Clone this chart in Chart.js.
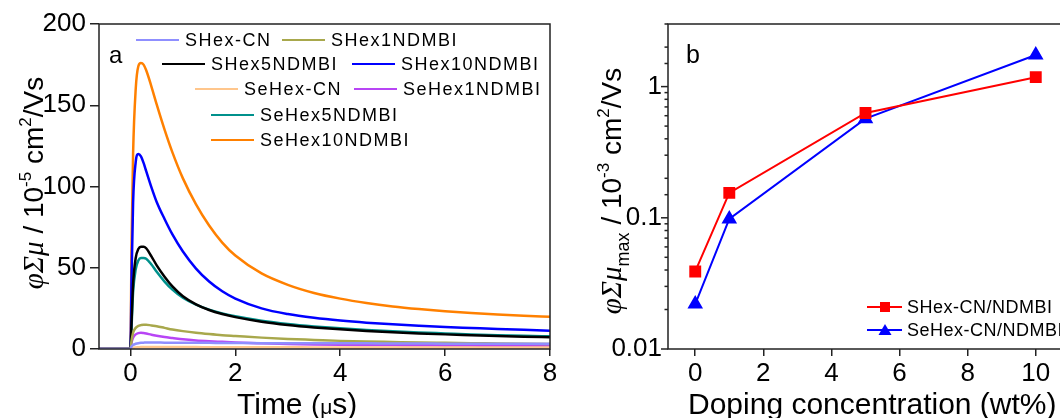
<!DOCTYPE html>
<html>
<head>
<meta charset="utf-8">
<script src="https://cdn.jsdelivr.net/npm/chart.js@4/dist/chart.umd.min.js"></script>
<style>
  html, body { margin: 0; padding: 0; background: #fff; overflow: hidden; width: 1060px; height: 418px; }
  .panel { position: absolute; top: 0; height: 418px; }
  #panelA { left: 0; width: 560px; }
  #panelB { left: 560px; width: 520px; }
</style>
</head>
<body>
<div class="panel" id="panelA"><canvas id="decayChart" width="560" height="418"></canvas></div>
<div class="panel" id="panelB"><canvas id="peakChart" width="520" height="418"></canvas></div>
<script>
// panel a: photoconductivity transients, time in microseconds
const timeUs = [-0.6, -0.02, 0, 0.02, 0.05, 0.1, 0.15, 0.2, 0.25, 0.3, 0.4, 0.5, 0.65, 0.8, 1.0,
  1.25, 1.5, 1.75, 2.0, 2.5, 3.0, 3.5, 4.0, 4.5, 5.0, 5.5, 6.0, 6.5, 7.0, 7.5, 8.0];

const sHexCN = [0, 0, 0, 1.5, 2.5, 3.2, 3.6, 3.8, 3.9, 4.0, 4.0, 4.0, 3.9, 3.9, 3.9,
  3.8, 3.8, 3.7, 3.7, 3.6, 3.6, 3.5, 3.5, 3.5, 3.4, 3.4, 3.3, 3.3, 3.3, 3.2, 3.2];
const sHex1 = [0, 0, 0, 5, 10, 13, 14.2, 14.7, 15, 15, 14.5, 14, 13, 12, 11,
  10, 9.2, 8.5, 8, 7, 6.2, 5.6, 5, 4.6, 4.3, 4, 3.8, 3.6, 3.4, 3.2, 3.0];
const sHex5 = [0, 0, 0, 16, 40, 56, 61.5, 63, 63, 62, 57, 51.5, 44.5, 38.5, 32.5,
  27.5, 24, 21.5, 19.6, 16.8, 14.8, 13.3, 12.1, 11.1, 10.3, 9.6, 9.0, 8.5, 8.0, 7.6, 7.3];
const sHex10 = [0, 0, 0, 42, 90, 115, 120, 118.5, 114.5, 109.5, 99.5, 90.5, 80, 70.5, 60,
  49.5, 41.5, 35.5, 31, 25, 21.5, 19.2, 17.5, 16.2, 15.2, 14.3, 13.5, 12.9, 12.3, 11.8, 11.3];
const seHexCN = [0, 0, 0, 0.5, 0.8, 1.0, 1.1, 1.2, 1.2, 1.2, 1.2, 1.2, 1.2, 1.2, 1.2,
  1.2, 1.1, 1.1, 1.1, 1.1, 1.1, 1.0, 1.0, 1.0, 1.0, 1.0, 1.0, 1.0, 1.0, 1.0, 1.0];
const seHex1 = [0, 0, 0, 4, 7, 9, 9.8, 10, 9.8, 9.5, 8.8, 8.2, 7.4, 6.8, 6,
  5.3, 4.8, 4.4, 4, 3.5, 3.1, 2.8, 2.6, 2.5, 2.4, 2.3, 2.2, 2.1, 2.0, 2.0, 1.9];
const seHex5 = [0, 0, 0, 13, 35, 49, 54.5, 56, 56, 55.5, 52, 47.5, 41.5, 36.5, 31.5,
  27.3, 24.2, 21.9, 20.1, 17.4, 15.4, 13.9, 12.7, 11.7, 10.9, 10.2, 9.6, 9.0, 8.5, 8.1, 7.8];
const seHex10 = [0, 0, 0, 62, 120, 160, 174, 176, 175, 171.5, 161.5, 150.5, 135, 121, 105,
  89, 76, 65.5, 57.5, 46.5, 39.5, 34.5, 31, 28.3, 26.2, 24.6, 23.3, 22.2, 21.3, 20.5, 19.8];

const seriesNames = ['SHex-CN', 'SHex1NDMBI', 'SHex5NDMBI', 'SHex10NDMBI',
  'SeHex-CN', 'SeHex1NDMBI', 'SeHex5NDMBI', 'SeHex10NDMBI'];
const seriesValues = [sHexCN, sHex1, sHex5, sHex10, seHexCN, seHex1, seHex5, seHex10];
const seriesColors = ['#8f8fff', '#a8a84c', '#000000', '#0000ff',
  '#ffc68c', '#b845f5', '#00918c', '#ff8000'];

// panel b: peak values vs doping
const dopingWt = [0, 1, 5, 10];
const sHexPeak = [0.039, 0.155, 0.63, 1.18];
const seHexPeak = [0.022, 0.098, 0.57, 1.74];

const SANS = '"Liberation Sans", Arial, sans-serif';
const SERIF = '"Liberation Serif", "DejaVu Serif", serif';

// draw a row of text pieces with different fonts; rotated=true reads bottom-to-top
function drawRuns(ctx, runs, x, y, rotated, centered) {
  ctx.save();
  ctx.fillStyle = '#000';
  ctx.textBaseline = 'alphabetic';
  ctx.textAlign = 'left';
  let total = 0;
  runs.forEach(r => { ctx.font = r.font; total += ctx.measureText(r.text).width; });
  ctx.translate(x, y);
  if (rotated) ctx.rotate(-Math.PI / 2);
  let cx = centered ? -total / 2 : 0;
  runs.forEach(r => {
    ctx.font = r.font;
    ctx.fillText(r.text, cx, r.dy || 0);
    cx += ctx.measureText(r.text).width;
  });
  ctx.restore();
}

function drawFrame(chart) {
  const a = chart.chartArea;
  const ctx = chart.ctx;
  ctx.save();
  ctx.strokeStyle = '#222';
  ctx.lineWidth = 1.5;
  ctx.strokeRect(a.left, a.top, a.right - a.left, a.bottom - a.top);
  ctx.restore();
}

const decayDecor = {
  id: 'decayDecor',
  afterDraw(chart) {
    const ctx = chart.ctx;
    drawFrame(chart);

    // legend laid out like the original, rows of one or two entries
    const legendRows = [
      { y: 40, items: [[0, 136], [1, 282]] },
      { y: 64, items: [[2, 162], [3, 352]] },
      { y: 89, items: [[4, 195], [5, 354]] },
      { y: 115, items: [[6, 211]] },
      { y: 140, items: [[7, 211]] }
    ];
    ctx.save();
    ctx.font = '18px ' + SANS;
    ctx.letterSpacing = '1.5px';
    ctx.textBaseline = 'middle';
    legendRows.forEach(row => {
      row.items.forEach(([i, x0]) => {
        const ds = chart.data.datasets[i];
        ctx.strokeStyle = ds.borderColor;
        ctx.lineWidth = 2;
        ctx.beginPath();
        ctx.moveTo(x0, row.y);
        ctx.lineTo(x0 + 43, row.y);
        ctx.stroke();
        ctx.fillStyle = '#000';
        ctx.fillText(ds.label, x0 + 49, row.y + 1);
      });
    });
    ctx.restore();

    ctx.save();
    ctx.fillStyle = '#000';
    ctx.font = '24px ' + SANS;
    ctx.fillText('a', 109, 63);
    ctx.restore();

    drawRuns(ctx, [
      { text: 'Time ', font: '30px ' + SANS },
      { text: '(', font: '28px ' + SANS },
      { text: 'μ', font: '21px ' + SANS },
      { text: 's)', font: '30px ' + SANS }
    ], 237, 414, false, false);

    drawRuns(ctx, [
      { text: 'φΣμ', font: 'italic 29px ' + SERIF },
      { text: ' / 10', font: '28px ' + SANS },
      { text: '-5', font: '17px ' + SANS, dy: -12 },
      { text: ' cm', font: '28px ' + SANS },
      { text: '2', font: '17px ' + SANS, dy: -12 },
      { text: '/Vs', font: '28px ' + SANS }
    ], 43, 183, true, true);
  }
};

const peakDecor = {
  id: 'peakDecor',
  afterDraw(chart) {
    const ctx = chart.ctx;
    const a = chart.chartArea;
    drawFrame(chart);

    // log axis tick marks, longer at the decades
    const ys = chart.scales.y;
    ctx.save();
    ctx.strokeStyle = '#222';
    ctx.lineWidth = 1.5;
    ys.ticks.forEach(t => {
      const lg = Math.log10(t.value);
      const major = Math.abs(lg - Math.round(lg)) < 1e-6;
      const py = ys.getPixelForValue(t.value);
      ctx.beginPath();
      ctx.moveTo(a.left, py);
      ctx.lineTo(a.left - (major ? 7 : 3.5), py);
      ctx.stroke();
    });
    ctx.restore();

    // legend, bottom right
    const entries = [
      { i: 0, y: 307 },
      { i: 1, y: 330 }
    ];
    const ox = -560;
    ctx.save();
    ctx.font = '18px ' + SANS;
    ctx.letterSpacing = '0.5px';
    ctx.textBaseline = 'middle';
    entries.forEach(e => {
      const ds = chart.data.datasets[e.i];
      ctx.strokeStyle = ds.borderColor;
      ctx.fillStyle = ds.borderColor;
      ctx.lineWidth = 2;
      ctx.beginPath();
      ctx.moveTo(867 + ox, e.y);
      ctx.lineTo(902 + ox, e.y);
      ctx.stroke();
      const mx = 885 + ox;
      if (ds.pointStyle === 'rect') {
        ctx.fillRect(mx - 5, e.y - 5, 10, 10);
      } else {
        ctx.beginPath();
        ctx.moveTo(mx, e.y - 6);
        ctx.lineTo(mx + 6.5, e.y + 5);
        ctx.lineTo(mx - 6.5, e.y + 5);
        ctx.closePath();
        ctx.fill();
      }
      ctx.fillStyle = '#000';
      ctx.fillText(ds.label, 907 + ox, e.y + 1);
    });
    ctx.restore();

    ctx.save();
    ctx.fillStyle = '#000';
    ctx.font = '25px ' + SANS;
    ctx.fillText('b', 686 + ox, 63);
    ctx.restore();

    drawRuns(ctx, [
      { text: 'Doping concentration (wt%)', font: '30px ' + SANS }
    ], 688 + ox, 414, false, false);

    drawRuns(ctx, [
      { text: 'φΣμ', font: 'italic 29px ' + SERIF },
      { text: 'max', font: '18px ' + SANS, dy: 8 },
      { text: ' / 10', font: '28px ' + SANS },
      { text: '-3', font: '17px ' + SANS, dy: -12 },
      { text: ' cm', font: '28px ' + SANS },
      { text: '2', font: '17px ' + SANS, dy: -12 },
      { text: '/Vs', font: '28px ' + SANS }
    ], 621 + ox, 191, true, true);
  }
};

const tickFont = { family: SANS, size: 26 };

new Chart(document.getElementById('decayChart'), {
  type: 'line',
  data: {
    datasets: seriesNames.map((name, i) => ({
      label: name,
      data: timeUs.map((t, k) => ({ x: t, y: seriesValues[i][k] })),
      borderColor: seriesColors[i],
      backgroundColor: seriesColors[i],
      borderWidth: 2.5,
      pointRadius: 0,
      cubicInterpolationMode: 'monotone',
      fill: false
    }))
  },
  options: {
    responsive: false,
    animation: false,
    layout: { autoPadding: false, padding: { left: 0, right: 10, top: 24, bottom: 0 } },
    plugins: { legend: { display: false }, tooltip: { enabled: false } },
    scales: {
      x: {
        type: 'linear', min: -0.6, max: 8,
        afterFit(s) { s.height = 69; },
        ticks: { stepSize: 2, includeBounds: false, font: tickFont, color: '#000', padding: 2, maxRotation: 0 },
        grid: { drawOnChartArea: false, tickLength: 7, color: '#222', lineWidth: 1.5 },
        border: { display: false }
      },
      y: {
        min: 0, max: 200,
        afterFit(s) { s.width = 99; },
        ticks: { stepSize: 50, font: tickFont, color: '#000', padding: 4 },
        grid: { drawOnChartArea: false, tickLength: 9, color: '#222', lineWidth: 1.5 },
        border: { display: false }
      }
    }
  },
  plugins: [decayDecor]
});

new Chart(document.getElementById('peakChart'), {
  type: 'scatter',
  data: {
    datasets: [
      {
        label: 'SHex-CN/NDMBI',
        data: dopingWt.map((x, k) => ({ x, y: sHexPeak[k] })),
        borderColor: '#ff0000', backgroundColor: '#ff0000',
        showLine: true, borderWidth: 2, pointStyle: 'rect', pointRadius: 7
      },
      {
        label: 'SeHex-CN/NDMBI',
        data: dopingWt.map((x, k) => ({ x, y: seHexPeak[k] })),
        borderColor: '#0000ff', backgroundColor: '#0000ff',
        showLine: true, borderWidth: 2, pointStyle: 'triangle', pointRadius: 7
      }
    ]
  },
  options: {
    responsive: false,
    animation: false,
    layout: { autoPadding: false, padding: { left: 0, right: 17, top: 24, bottom: 0 } },
    plugins: { legend: { display: false }, tooltip: { enabled: false } },
    scales: {
      x: {
        type: 'linear', min: -0.8, max: 10.8,
        afterFit(s) { s.height = 69; },
        ticks: { stepSize: 2, includeBounds: false, font: tickFont, color: '#000', padding: 2, maxRotation: 0 },
        grid: { drawOnChartArea: false, tickLength: 7, color: '#222', lineWidth: 1.5 },
        border: { display: false }
      },
      y: {
        type: 'logarithmic', min: 0.01, max: 3,
        afterFit(s) { s.width = 108; },
        ticks: {
          font: tickFont, color: '#000', padding: 6, autoSkip: false,
          callback(v) {
            const lg = Math.log10(v);
            return Math.abs(lg - Math.round(lg)) < 1e-6 ? String(Number(v.toPrecision(2))) : '';
          }
        },
        grid: { display: false, tickLength: 0 },
        border: { display: false }
      }
    }
  },
  plugins: [peakDecor]
});
</script>
</body>
</html>
